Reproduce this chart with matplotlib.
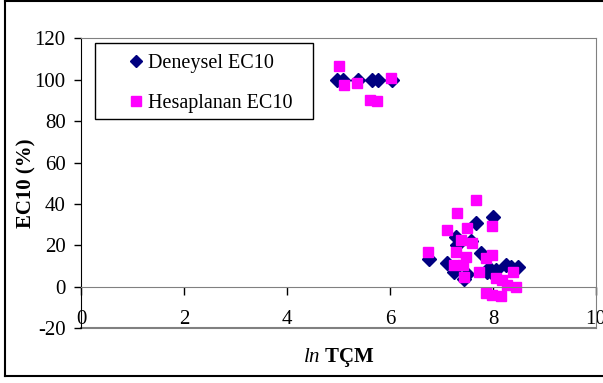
import numpy as np
import matplotlib
matplotlib.use('Agg')
import matplotlib.pyplot as plt
from matplotlib.patches import Rectangle
from matplotlib.lines import Line2D

plt.rcParams['font.family'] = ['Liberation Serif', 'DejaVu Serif']
plt.rcParams['mathtext.fontset'] = 'custom'
plt.rcParams['mathtext.rm'] = 'Liberation Serif'
plt.rcParams['mathtext.it'] = 'Liberation Serif:italic'
plt.rcParams['mathtext.bf'] = 'Liberation Serif:bold'
plt.rcParams['axes.unicode_minus'] = False

# data
deneysel_x = [4.97, 5.09, 5.38, 5.66, 5.77, 6.03,
              6.76, 7.11, 7.24, 7.28, 7.30, 7.44, 7.50, 7.57, 7.67, 7.76,
              7.88, 7.92, 7.99, 8.00, 8.05, 8.25, 8.35, 8.48]
deneysel_y = [100, 100, 100, 100, 100, 100,
              13.3, 11.4, 7.4, 24, 20, 3.7, 6, 22, 31, 16.2,
              7, 9, 6.6, 33.6, 8.2, 10.6, 9.8, 9.5]

hesap_x = [5.00, 5.10, 5.36, 5.62, 5.75, 6.02,
           6.74, 7.10, 7.24, 7.28, 7.30, 7.37, 7.41, 7.44, 7.47, 7.50,
           7.60, 7.67, 7.73, 7.86, 7.86, 7.99, 7.99, 7.99, 8.05, 8.15,
           8.18, 8.28, 8.38, 8.44]
hesap_y = [106.8, 97.5, 98.5, 90.4, 89.8, 101,
           17, 27.5, 10.6, 17, 35.8, 22.6, 10.6, 4.7, 14.6, 28.3,
           21, 41.9, 7.4, 13.8, -3, 29.4, 15.4, -3.9, 4.2, -4.3,
           3.4, 1, 7.4, 0.1]

x_ticks = [0, 2, 4, 6, 8, 10]
y_ticks = [-20, 0, 20, 40, 60, 80, 100, 120]

navy = '#000080'
magenta = '#FF00FF'
gray = '#808080'

fig = plt.figure(figsize=(6.03, 3.83), dpi=100)
ax = fig.add_axes([81 / 603, 1 - 328.3 / 383, 515 / 603, 290 / 383])

ax.plot(deneysel_x, deneysel_y, linestyle='none', marker='D', markersize=7,
        color=navy, label='Deneysel EC10')
ax.plot(hesap_x, hesap_y, linestyle='none', marker='s', markersize=7.5,
        color=magenta, label='Hesaplanan EC10')

ax.set_xlim(0, 10)
ax.set_ylim(-20, 120)
ax.set_xticks(x_ticks)
ax.set_yticks(y_ticks)
ax.tick_params(labelsize=15)
ax.tick_params(axis='y', direction='out', length=5, width=1, pad=6, colors='black')
ax.tick_params(axis='x', direction='out', length=6, width=1, pad=11, colors='black')

# bottom axis sits on zero, plot area border in gray
ax.spines['bottom'].set_position(('data', 0))
ax.spines['bottom'].set_color(gray)
ax.spines['top'].set_color(gray)
ax.spines['right'].set_color(gray)
ax.spines['left'].set_color('black')
ax.axhline(-20, color=gray, linewidth=1.5, clip_on=False, zorder=0)

ax.set_ylabel('EC10 (%)', fontsize=15, fontweight='bold', labelpad=-1)
ax.set_xlabel(r'$\mathit{ln}$ $\mathbf{TÇM}$', fontsize=15, labelpad=12)

# legend, with its own frame
ax.add_patch(Rectangle((0.0266, 0.722), 0.4234, 0.261, transform=ax.transAxes,
                       fill=False, edgecolor='black', linewidth=1, zorder=5))
leg = ax.legend(loc='upper left', bbox_to_anchor=(0.087, 0.945), frameon=False,
                fontsize=14.5, borderpad=0, borderaxespad=0, handlelength=1.0,
                handletextpad=0.1, labelspacing=1.0, numpoints=1)
for h in leg.legend_handles:
    h.set_markersize(6.5)

# outer chart border
fig.add_artist(Line2D([4.7 / 603, 4.7 / 603], [1 - 376 / 383, 1 - 1 / 383],
                      color='black', linewidth=1.5))
fig.add_artist(Line2D([4.7 / 603, 1], [1 - 376 / 383, 1 - 376 / 383],
                      color='black', linewidth=1.5))
fig.add_artist(Line2D([4.7 / 603, 1], [1 - 1 / 383, 1 - 1 / 383],
                      color='black', linewidth=1.5))

fig.savefig('out.png', dpi=100)
